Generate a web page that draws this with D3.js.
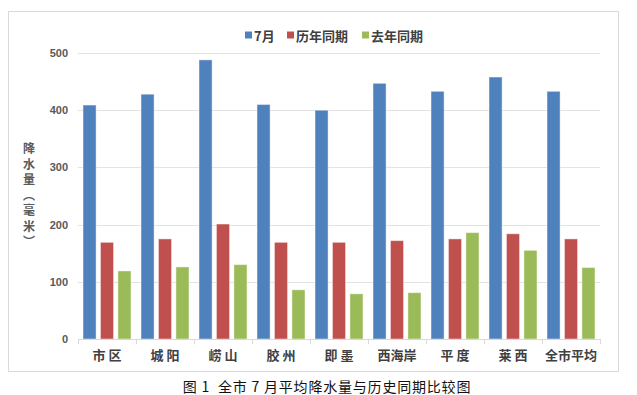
<!DOCTYPE html>
<html><head><meta charset="utf-8">
<script src="https://cdn.jsdelivr.net/npm/d3@7"></script>
<style>
html,body{margin:0;padding:0;background:#fff;}
svg{display:block;font-family:"Noto Sans CJK SC","Noto Sans",sans-serif;}
</style></head>
<body>
<svg id="chart" width="637" height="395"></svg>
<script>
const categories = ["市 区","城 阳","崂 山","胶 州","即 墨","西海岸","平 度","莱 西","全市平均"];
const seriesNames = ["7月","历年同期","去年同期"];
const julyValues = [409, 428, 488, 410, 400, 447, 433, 458, 433];
const historyValues = [169, 175, 201, 169, 169, 172, 175, 184, 175];
const lastYearValues = [119, 126, 130, 86, 79, 81, 186, 155, 125];
const yTicks = [0, 100, 200, 300, 400, 500];
const colors = ["#4F81BD", "#C0504D", "#9BBB59"];
const yTitle = "降水量（毫米）";
const caption = "图 1  全市 7 月平均降水量与历史同期比较图";

const seriesValues = [julyValues, historyValues, lastYearValues];
const svg = d3.select("#chart");

// outer border
svg.append("rect").attr("x", 8.5).attr("y", 11.5).attr("width", 610).attr("height", 360)
  .attr("fill", "#fff").attr("stroke", "#d9d9d9").attr("stroke-width", 1);

const plot = {left: 78, right: 600, top: 53, bottom: 339};
const x0 = d3.scaleBand().domain(categories).range([plot.left, plot.right]).paddingInner(0).paddingOuter(0);
const x1 = d3.scaleBand().domain(seriesNames).range([5, x0.bandwidth() - 5]).paddingInner(0.25).paddingOuter(0);
const y = d3.scaleLinear().domain([0, 500]).range([plot.bottom, plot.top]);

// gridlines
svg.append("g").selectAll("line").data(yTicks.filter(d => d > 0)).join("line")
  .attr("x1", plot.left).attr("x2", plot.right)
  .attr("y1", d => Math.round(y(d)) + 0.5).attr("y2", d => Math.round(y(d)) + 0.5)
  .attr("stroke", "#e3e3e3").attr("stroke-width", 1);

// y axis labels
const yAxis = d3.axisLeft(y).tickValues(yTicks).tickSize(0).tickPadding(10);
const gy = svg.append("g").attr("transform", `translate(${plot.left},0)`).call(yAxis);
gy.select(".domain").remove();
gy.selectAll("text").attr("font-size", 11).attr("font-weight", "bold").attr("fill", "#595959")
  .attr("font-family", "Arial, 'Liberation Sans', sans-serif");

// bars
const groups = svg.append("g").selectAll("g").data(categories).join("g")
  .attr("transform", d => `translate(${x0(d)},0)`);
groups.selectAll("rect").data((d, i) => seriesNames.map((s, j) => ({s, j, v: seriesValues[j][i]}))).join("rect")
  .attr("x", d => x1(d.s)).attr("width", x1.bandwidth())
  .attr("y", d => y(d.v)).attr("height", d => y(0) - y(d.v))
  .attr("fill", d => colors[d.j])
  .attr("stroke", "rgba(255,255,255,0.45)").attr("stroke-width", 1);

// x axis
const xAxis = d3.axisBottom(x0).tickSize(0).tickPadding(12);
const gx = svg.append("g").attr("transform", `translate(0,${plot.bottom})`).call(xAxis);
gx.select(".domain").attr("stroke", "#d9d9d9");
gx.selectAll("text").attr("font-size", 13).attr("font-weight", "bold").attr("fill", "#404040")
  .attr("font-family", "'Noto Sans CJK SC', sans-serif").attr("style", "white-space:pre");
// category separator ticks
svg.append("g").selectAll("line").data(d3.range(categories.length + 1)).join("line")
  .attr("x1", i => Math.round(plot.left + i * x0.step()) + 0.5)
  .attr("x2", i => Math.round(plot.left + i * x0.step()) + 0.5)
  .attr("y1", plot.bottom).attr("y2", plot.bottom + 5)
  .attr("stroke", "#d9d9d9");

// y axis title (vertical writing)
svg.append("text")
  .attr("x", 29).attr("y", 197)
  .attr("text-anchor", "middle")
  .attr("font-size", 12).attr("font-weight", "bold").attr("fill", "#595959")
  .attr("style", "writing-mode: vertical-rl; text-orientation: upright; letter-spacing: 3.5px")
  .text(yTitle);

// legend
const legendX = [245, 287, 362];
const lg = svg.append("g").selectAll("g").data(seriesNames).join("g")
  .attr("transform", (d, i) => `translate(${legendX[i]},35)`);
lg.append("rect").attr("x", 0).attr("y", -3.5).attr("width", 7).attr("height", 7)
  .attr("fill", (d, i) => colors[i]);
lg.append("text").attr("x", 9).attr("y", 0).attr("dominant-baseline", "central")
  .attr("font-size", 13).attr("font-weight", "bold").attr("fill", "#404040")
  .text(d => d);

// caption
svg.append("text").attr("x", 327).attr("y", 385.5).attr("text-anchor", "middle")
  .attr("dominant-baseline", "central").attr("font-size", 14).attr("fill", "#111")
  .attr("style", "white-space:pre; letter-spacing: 0.8px")
  .text(caption);
</script>
</body></html>
